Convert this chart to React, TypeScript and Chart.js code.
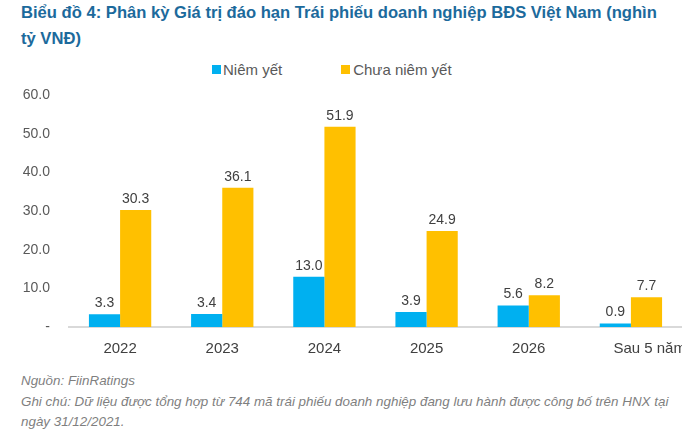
import React, { useEffect, useRef } from "react";
import { Chart, registerables } from "chart.js";

Chart.register(...registerables);

const categories = ["2022", "2023", "2024", "2025", "2026", "         Sau 5 năm"];
const listed = [3.3, 3.4, 13.0, 3.9, 5.6, 0.9];
const unlisted = [30.3, 36.1, 51.9, 24.9, 8.2, 7.7];
const seriesNames = ["Niêm yết", "Chưa niêm yết"];
const yTicks = [0, 10, 20, 30, 40, 50, 60];

const BLUE = "#00B0F0";
const YELLOW = "#FFC000";
const FONT = "'Liberation Sans', Arial, sans-serif";

const valueLabels = {
  id: "valueLabels",
  afterDatasetsDraw(chart: any) {
    const ctx = chart.ctx;
    ctx.save();
    ctx.font = `14px ${FONT}`;
    ctx.fillStyle = "#404040";
    ctx.textAlign = "center";
    ctx.textBaseline = "bottom";
    chart.data.datasets.forEach((ds: any, i: number) => {
      const meta = chart.getDatasetMeta(i);
      meta.data.forEach((el: any, j: number) => {
        ctx.fillText(Number(ds.data[j]).toFixed(1), el.x, el.y - 4);
      });
    });
    ctx.restore();
  },
};

export default function App() {
  const ref = useRef<HTMLCanvasElement>(null);
  useEffect(() => {
    if (!ref.current) return;
    const chart = new Chart(ref.current, {
      type: "bar",
      data: {
        labels: categories,
        datasets: [
          { label: seriesNames[0], data: listed, backgroundColor: BLUE, categoryPercentage: 0.61, barPercentage: 1 },
          { label: seriesNames[1], data: unlisted, backgroundColor: YELLOW, categoryPercentage: 0.61, barPercentage: 1 },
        ],
      },
      options: {
        animation: false,
        responsive: false,
        maintainAspectRatio: false,
        layout: { padding: { top: 13, right: 0, left: 0, bottom: 0 } },
        plugins: { legend: { display: false }, tooltip: { enabled: false } },
        scales: {
          x: {
            grid: { display: false, drawTicks: false },
            border: { display: true, color: "#D9D9D9", width: 2 },
            ticks: { color: "#404040", font: { size: 15, family: FONT }, padding: 13, maxRotation: 0, autoSkip: false },
            afterFit(scale: any) {
              scale.height = 34;
              scale.paddingRight = 0;
              scale.paddingLeft = 0;
            },
          },
          y: {
            min: 0,
            max: 60,
            afterBuildTicks(scale: any) { scale.ticks = yTicks.map((v) => ({ value: v })); },
            grid: { display: false, drawTicks: false },
            border: { display: false },
            ticks: {
              color: "#595959",
              font: { size: 14, family: FONT },
              padding: 19,
              callback: (v: any) => (Number(v) === 0 ? "-" : Number(v).toFixed(1)),
            },
            afterFit(scale: any) { scale.width = 69; },
          },
        },
      },
      plugins: [valueLabels],
    });
    return () => chart.destroy();
  }, []);

  return (
    <div style={{ position: "fixed", left: 0, top: 0, width: 700, height: 435, background: "#fff", fontFamily: FONT, overflow: "hidden" }}>
      <div style={{ position: "absolute", left: 21, top: 0, color: "#1C6A9C", fontWeight: "bold", fontSize: 16.6, lineHeight: "26px", whiteSpace: "nowrap" }}>
        Biểu đồ 4: Phân kỳ Giá trị đáo hạn Trái phiếu doanh nghiệp BĐS Việt Nam (nghìn
        <br />
        tỷ VNĐ)
      </div>
      <div style={{ position: "absolute", left: 212, top: 61, fontSize: 15, color: "#595959", display: "flex", alignItems: "center", whiteSpace: "nowrap" }}>
        <span style={{ display: "inline-block", width: 9, height: 9, background: BLUE, marginRight: 2 }} />
        <span>{seriesNames[0]}</span>
        <span style={{ display: "inline-block", width: 9, height: 9, background: YELLOW, marginLeft: 59, marginRight: 3 }} />
        <span>{seriesNames[1]}</span>
      </div>
      <div style={{ position: "absolute", left: 0, top: 68, width: 682, height: 300, overflow: "hidden" }}>
        <canvas ref={ref} width={682} height={293} style={{ width: 682, height: 293, display: "block" }} />
      </div>
      <div style={{ position: "absolute", left: 21, top: 371, fontSize: 13.4, color: "#7F7F7F", fontStyle: "italic", lineHeight: "20.5px", whiteSpace: "nowrap" }}>
        <div>Nguồn: FiinRatings</div>
        <div>Ghi chú: Dữ liệu được tổng hợp từ 744 mã trái phiếu doanh nghiệp đang lưu hành được công bố trên HNX tại</div>
        <div>ngày 31/12/2021.</div>
      </div>
    </div>
  );
}
